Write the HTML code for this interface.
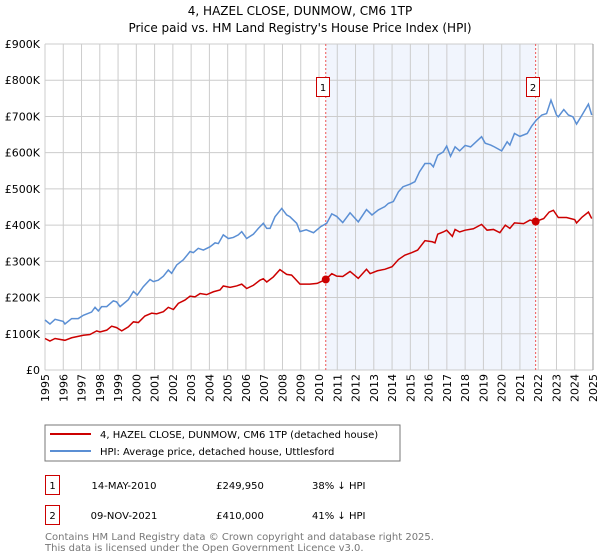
<!DOCTYPE html>
<html><head><meta charset="utf-8"><style>
body{margin:0;background:#fff;font-family:"DejaVu Sans","Liberation Sans",sans-serif;}
svg{display:block}
</style></head><body>
<svg id="chart" width="600" height="560" xmlns="http://www.w3.org/2000/svg">
<text x="300" y="15" text-anchor="middle" font-size="12">4, HAZEL CLOSE, DUNMOW, CM6 1TP</text>
<text x="300" y="32" text-anchor="middle" font-size="12">Price paid vs. HM Land Registry's House Price Index (HPI)</text>
<g id="grid"></g>
<g id="marks"></g>
<g id="axes"></g>
<rect x="45" y="425" width="355" height="36" fill="#fff" stroke="#777"/>
<line x1="50" y1="434" x2="91" y2="434" stroke="#cc0000" stroke-width="2"/>
<text x="100" y="438" font-size="10">4, HAZEL CLOSE, DUNMOW, CM6 1TP (detached house)</text>
<line x1="50" y1="451" x2="91" y2="451" stroke="#5b8fd4" stroke-width="2"/>
<text x="100" y="455" font-size="10">HPI: Average price, detached house, Uttlesford</text>
<g>
<rect x="45.5" y="475.5" width="14" height="19" fill="#fff" stroke="#cc0000"/>
<text x="52.5" y="489" font-size="10" text-anchor="middle">1</text>
<text x="124" y="489" font-size="10" text-anchor="middle">14-MAY-2010</text>
<text x="240" y="489" font-size="10" text-anchor="middle">£249,950</text>
<text x="312" y="489" font-size="10">38% ↓ HPI</text>
</g>
<g>
<rect x="45.5" y="505.5" width="14" height="19" fill="#fff" stroke="#cc0000"/>
<text x="52.5" y="519" font-size="10" text-anchor="middle">2</text>
<text x="124" y="519" font-size="10" text-anchor="middle">09-NOV-2021</text>
<text x="240" y="519" font-size="10" text-anchor="middle">£410,000</text>
<text x="312" y="519" font-size="10">41% ↓ HPI</text>
</g>
<text x="45" y="540" font-size="10" fill="#777">Contains HM Land Registry data © Crown copyright and database right 2025.</text>
<text x="45" y="551" font-size="10" fill="#777">This data is licensed under the Open Government Licence v3.0.</text>
</svg>
<script>
const hpiYears=[1995,1995.27,1995.55,1996,1996.09,1996.46,1996.82,1997.1,1997.55,1997.74,1997.92,1998.1,1998.38,1998.74,1998.92,1999.11,1999.56,1999.84,2000.05,2000.38,2000.75,2000.93,2001.2,2001.48,2001.75,2001.93,2002.21,2002.57,2002.94,2003.12,2003.39,2003.67,2004.03,2004.31,2004.49,2004.76,2005.04,2005.31,2005.58,2005.77,2006.04,2006.41,2006.68,2006.95,2007.14,2007.32,2007.59,2007.96,2008.23,2008.41,2008.78,2008.96,2009.3,2009.7,2010.1,2010.42,2010.7,2010.97,2011.3,2011.7,2012.15,2012.6,2012.9,2013.25,2013.6,2013.8,2014.07,2014.35,2014.6,2014.98,2015.25,2015.5,2015.8,2016.1,2016.26,2016.5,2016.8,2016.99,2017.2,2017.45,2017.7,2018,2018.3,2018.6,2018.9,2019.1,2019.4,2019.6,2020,2020.3,2020.45,2020.7,2021,2021.4,2021.64,2021.9,2022.2,2022.46,2022.7,2023,2023.1,2023.4,2023.65,2023.9,2024.1,2024.4,2024.75,2024.93];
const hpiValues=[138,127,140,134,127,142,142,151,160,173,163,175,175,191,188,175,194,217,207,230,250,244,248,259,276,267,290,304,327,324,336,331,340,351,349,373,363,366,373,382,363,375,391,405,391,391,423,446,428,423,405,382,387,379,396,405,431,424,407,434,409,443,428,442,451,460,465,492,506,513,520,547,570,570,561,593,602,618,590,616,605,620,616,630,644,626,621,616,605,630,621,653,645,653,673,690,704,708,745,704,699,719,704,699,679,704,734,704];
const ppYears=[1995,1995.27,1995.55,1996.09,1996.46,1997.1,1997.46,1997.83,1998.01,1998.38,1998.65,1998.92,1999.2,1999.56,1999.84,2000.11,2000.47,2000.84,2001.11,2001.48,2001.75,2002.03,2002.3,2002.66,2002.94,2003.21,2003.49,2003.85,2004.22,2004.58,2004.76,2005.13,2005.49,2005.77,2006.04,2006.41,2006.77,2006.95,2007.14,2007.5,2007.86,2008.23,2008.5,2008.69,2008.96,2009.5,2009.9,2010.37,2010.7,2010.97,2011.3,2011.7,2012.15,2012.6,2012.8,2013.2,2013.6,2014,2014.35,2014.7,2015.07,2015.4,2015.8,2016.2,2016.35,2016.5,2016.8,2016.99,2017.3,2017.45,2017.7,2018,2018.45,2018.9,2019.2,2019.55,2019.9,2020.2,2020.45,2020.7,2021.2,2021.55,2021.86,2022.3,2022.6,2022.83,2023.1,2023.55,2024,2024.1,2024.4,2024.75,2024.93];
const ppValues=[87,80,87,82,89,96,98,108,105,110,121,117,108,119,133,131,149,157,155,161,173,167,184,193,204,202,211,208,216,221,232,228,232,237,225,234,248,252,243,257,277,264,262,252,237,237,239,250,266,259,258,272,253,278,266,274,278,285,305,317,324,331,357,354,351,375,381,386,369,388,381,386,390,402,386,388,379,400,391,406,404,414,410,418,436,441,421,421,415,406,422,436,418];
const saleYears=[2010.37,2021.86];
const saleValues=[249.95,410];
const saleLabels=["1","2"];
const yTicks=[0,100,200,300,400,500,600,700,800,900];
const yTickLabels=["£0","£100K","£200K","£300K","£400K","£500K","£600K","£700K","£800K","£900K"];
const NS="http://www.w3.org/2000/svg";
const X0=45,X1=593,Y0=370,Y1=44;
const xs=y=>X0+(y-1995)*(X1-X0)/30;
const ys=v=>Y0-v*(Y0-Y1)/900;
function mk(tag,attrs,parent){const e=document.createElementNS(NS,tag);for(const k in attrs)e.setAttribute(k,attrs[k]);parent.appendChild(e);return e;}
const grid=document.getElementById('grid'),marks=document.getElementById('marks'),axes=document.getElementById('axes');
const shade=mk('rect',{x:xs(saleYears[0]),y:Y1,width:xs(saleYears[1])-xs(saleYears[0]),height:Y0-Y1,fill:'#eef3fc',opacity:0.8},grid);


for(let yr=1995;yr<=2025;yr++){
 const l=mk('line',{x1:xs(yr),x2:xs(yr),y1:Y1,y2:Y0,stroke:'#cccccc','stroke-width':1},grid);
 
 
 const t=mk('text',{x:0,y:0,'font-size':11,'text-anchor':'end',transform:`translate(${xs(yr)+4},${Y0+4}) rotate(-90)`},axes);
 t.textContent=String(yr);
 
 
}
yTicks.forEach((v,i)=>{
 const l=mk('line',{x1:X0,x2:X1,y1:ys(v),y2:ys(v),stroke:'#cccccc','stroke-width':1},grid);
 
 
 const t=mk('text',{x:40,y:ys(v)+4,'font-size':11,'text-anchor':'end'},axes);
 t.textContent=yTickLabels[i];
 
 
});
const rb=mk('line',{x1:X1,x2:X1,y1:Y1,y2:Y0,stroke:'#999','stroke-width':1},grid);


saleYears.forEach((yr,i)=>{
 const l=mk('line',{x1:xs(yr),x2:xs(yr),y1:Y1,y2:Y0,stroke:'#ee5555','stroke-width':1,'stroke-dasharray':'2,2'},marks);
 
 
 const r=mk('rect',{x:Math.round(xs(yr))-9.5,y:77.5,width:13,height:19,fill:'#fff',stroke:'#cc0000'},marks);
 
 
 const t=mk('text',{x:Math.round(xs(yr))-3,y:91,'font-size':10,'text-anchor':'middle'},marks);
 t.textContent=saleLabels[i];
 
 
});
const hp=mk('polyline',{points:hpiYears.map((y,i)=>xs(y)+','+ys(hpiValues[i])).join(' '),fill:'none',stroke:'#5b8fd4','stroke-width':1.5},marks);


const pp=mk('polyline',{points:ppYears.map((y,i)=>xs(y)+','+ys(ppValues[i])).join(' '),fill:'none',stroke:'#cc0000','stroke-width':1.5},marks);


saleYears.forEach((yr,i)=>{
 const c=mk('circle',{cx:xs(yr),cy:ys(saleValues[i]),r:4,fill:'#cc0000'},marks);
 
 
});
</script>
</body></html>
